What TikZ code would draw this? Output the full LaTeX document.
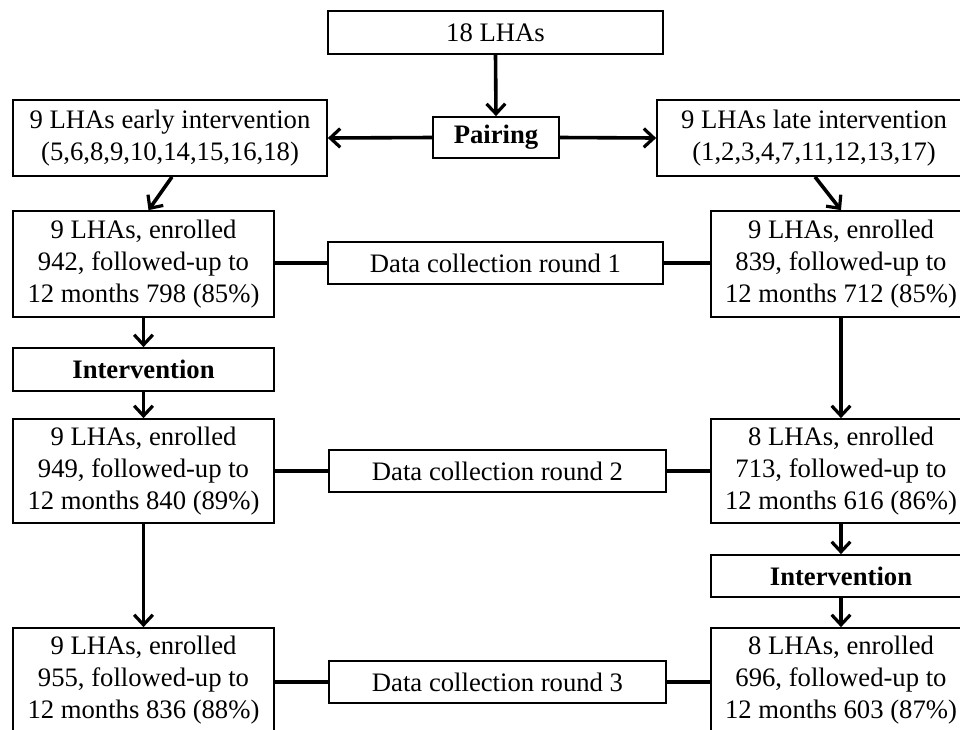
\documentclass[tikz,border=0pt]{standalone}
\usepackage{fontspec}
\setmainfont{Liberation Serif}
\usetikzlibrary{arrows.meta,calc}
\begin{document}
\begin{tikzpicture}[x=0.75pt,y=-0.75pt,
  box/.style={draw,line width=1.3pt,inner sep=0pt,align=center,font=\fontsize{20}{24}\selectfont},
  arr/.style={line width=2.7pt,-{Straight Barb[length=7.5pt,width=14pt,line width=2.4pt]}},
  link/.style={line width=3pt}]
\useasboundingbox (0,0) rectangle (960,729);
\clip (0,0) rectangle (960,729);
% top
\node[box,minimum width=0.75*335pt,minimum height=0.75*43pt] (top) at (495.5,32.5) {18 LHAs};
\node[box,minimum width=0.75*126pt,minimum height=0.75*41pt,font=\fontsize{20}{24}\selectfont\bfseries] (pair) at (496,137.5) {Pairing};
\node[box,minimum width=0.75*314pt,minimum height=0.75*76pt] (early) at (170,138) {9 LHAs early intervention\\(5,6,8,9,10,14,15,16,18)};
\node[box,minimum width=0.75*314pt,minimum height=0.75*76pt] (late) at (814,138) {9 LHAs late intervention\\(1,2,3,4,7,11,12,13,17)};
% round 1
\node[box,minimum width=0.75*261pt,minimum height=0.75*106pt] (L1) at (143.5,264) {9 LHAs, enrolled\\942, followed-up to\\12 months 798 (85\%)};
\node[box,minimum width=0.75*335pt,minimum height=0.75*42pt] (D1) at (495.5,263) {Data collection round 1};
\node[box,minimum width=0.75*260pt,minimum height=0.75*106pt] (R1) at (841,264) {9 LHAs, enrolled\\839, followed-up to\\12 months 712 (85\%)};
% intervention left
\node[box,minimum width=0.75*261pt,minimum height=0.75*43pt,font=\fontsize{20}{24}\selectfont\bfseries] (LI) at (143.5,369.5) {Intervention};
% round 2
\node[box,minimum width=0.75*261pt,minimum height=0.75*104pt] (L2) at (143.5,471) {9 LHAs, enrolled\\949, followed-up to\\12 months 840 (89\%)};
\node[box,minimum width=0.75*337pt,minimum height=0.75*42pt] (D2) at (497.5,471) {Data collection round 2};
\node[box,minimum width=0.75*260pt,minimum height=0.75*104pt] (R2) at (841,471) {8 LHAs, enrolled\\713, followed-up to\\12 months 616 (86\%)};
% intervention right
\node[box,minimum width=0.75*260pt,minimum height=0.75*42pt,font=\fontsize{20}{24}\selectfont\bfseries] (RI) at (841,576) {Intervention};
% round 3
\node[box,minimum width=0.75*261pt,minimum height=0.75*105pt] (L3) at (143.5,680.5) {9 LHAs, enrolled\\955, followed-up to\\12 months 836 (88\%)};
\node[box,minimum width=0.75*337pt,minimum height=0.75*42pt] (D3) at (497.5,682) {Data collection round 3};
\node[box,minimum width=0.75*260pt,minimum height=0.75*105pt] (R3) at (841,680.5) {8 LHAs, enrolled\\696, followed-up to\\12 months 603 (87\%)};
% arrows
\draw[arr] (top.south) -- (pair.north);
\draw[arr] (pair.west) -- (early.east);
\draw[arr] (pair.east) -- (late.west);
\draw[arr] ($(early.south)+(2,0)$) -- ($(L1.north)+(5,0)$);
\draw[arr] ($(late.south)+(1,0)$) -- (R1.north);
\draw[arr] (L1.south) -- (LI.north);
\draw[arr] (LI.south) -- (L2.north);
\draw[arr] (L2.south) -- (L3.north);
\draw[arr] (R1.south) -- (R2.north);
\draw[arr] (R2.south) -- (RI.north);
\draw[arr] (RI.south) -- (R3.north);
% links
\draw[link] (L1.east |- D1.west) -- (D1.west);
\draw[link] (D1.east) -- (R1.west |- D1.east);
\draw[link] (L2.east) -- (D2.west);
\draw[link] (D2.east) -- (R2.west);
\draw[link] (L3.east |- D3.west) -- (D3.west);
\draw[link] (D3.east) -- (R3.west |- D3.east);
\end{tikzpicture}
\end{document}
